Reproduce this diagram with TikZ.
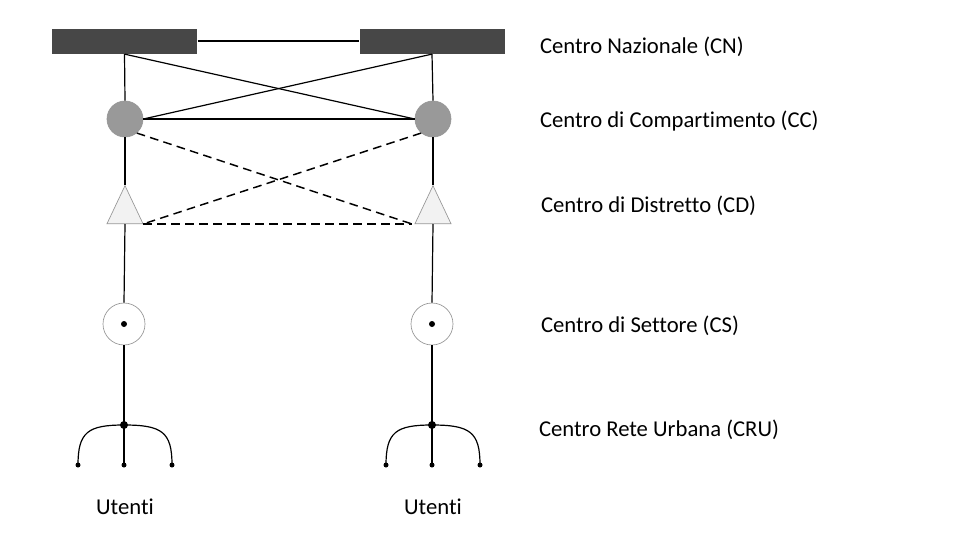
\documentclass[tikz,border=0pt]{standalone}
\usepackage{fontspec}
\setmainfont[Ligatures=NoCommon]{Carlito}
\usepackage{tikz}
\usetikzlibrary{shapes.geometric,calc}
\definecolor{cndark}{RGB}{71,71,71}
\definecolor{ccgrey}{RGB}{153,153,153}
\definecolor{edgegrey}{RGB}{150,150,150}
\definecolor{cdlight}{RGB}{242,242,242}

\begin{document}
\begin{tikzpicture}[x=0.75pt,y=-0.75pt,line width=0.9pt,
    cnbox/.style={rectangle,fill=cndark,inner sep=0,minimum width=108.75pt,minimum height=18.75pt},
    ccnode/.style={circle,fill=ccgrey,draw=edgegrey,line width=0.5pt,inner sep=0,minimum size=27pt},
    cdnode/.style={isosceles triangle,shape border rotate=90,isosceles triangle stretches,fill=cdlight,draw=edgegrey,line width=0.5pt,inner sep=0,minimum width=27pt,minimum height=28.5pt,anchor=south},
    csnode/.style={circle,fill=white,draw=edgegrey,line width=0.5pt,inner sep=0,minimum size=31.5pt},
    dot/.style={circle,fill=black,inner sep=0,minimum size=#1},
    cdlink/.style={line width=1.1pt,dash pattern=on 6.5pt off 4pt},
    lbl/.style={anchor=west,font=\fontsize{17}{20}\selectfont}]
    \useasboundingbox (0,0) rectangle (955,550);

    % Nazionale
    \node[cnbox] (cnA) at (124.5,41) {};
    \node[cnbox] (cnB) at (432,41) {};
    \draw (cnA.east) -- (cnB.west);

    % Compartimento
    \node[ccnode] (ccA) at (125,119) {};
    \node[ccnode] (ccB) at (433,119) {};
    \draw (cnA.south) -- (ccA.north);
    \draw (cnB.south) -- (ccB.north);
    \draw (cnA.south) -- (ccB.west);
    \draw (cnB.south) -- (ccA.east);
    \draw (ccA.east) -- (ccB.west);

    % Distretto
    \node[cdnode] (cdA) at (125,224) {};
    \node[cdnode] (cdB) at (433,224) {};
    \coordinate (cdAr) at ($(cdA.south)+(18,0)$);
    \coordinate (cdBl) at ($(cdB.south)+(-21,0)$);
    \draw (ccA.south) -- (cdA.north);
    \draw (ccB.south) -- (cdB.north);
    \draw[cdlink] (ccA.-50) -- (cdBl);
    \draw[cdlink] (ccB.-130) -- (cdAr);
    \draw[cdlink] (cdAr) -- (cdBl);

    % Settore
    \node[csnode] (csA) at (124,324) {};
    \node[csnode] (csB) at (432,324) {};
    \node[dot=4.5pt] (csAdot) at (csA) {};
    \node[dot=4.5pt] (csBdot) at (csB) {};
    \draw (cdA.south) -- (csA.north);
    \draw (cdB.south) -- (csB.north);

    % Rete urbana e utenti
    \foreach \s/\x in {A/124,B/432} {
        \node[dot=6pt] (cru\s) at (\x,425) {};
        \node[dot=3.75pt] (ut\s1) at (\x-46,465) {};
        \node[dot=3.75pt] (ut\s2) at (\x,465) {};
        \node[dot=3.75pt] (ut\s3) at (\x+48,465) {};
        \draw (cs\s.south) -- (cru\s.center);
        \draw (cru\s.center) -- (ut\s2.center);
        \draw (cru\s.center) .. controls (\x-36,425) and (\x-46,432) .. (ut\s1.center);
        \draw (cru\s.center) .. controls (\x+38,425) and (\x+48,432) .. (ut\s3.center);
        \node[font=\fontsize{17}{20}\selectfont] (utenti\s) at (\x+1,507) {Utenti};
    }

    % Etichette
    \node[lbl] (lcn) at (535,47) {Centro Nazionale (CN)};
    \node[lbl] (lcc) at (535,121) {Centro di Compartimento (CC)};
    \node[lbl] (lcd) at (536,206) {Centro di Distretto (CD)};
    \node[lbl] (lcs) at (536,326) {Centro di Settore (CS)};
    \node[lbl] (lcru) at (534,430) {Centro Rete Urbana (CRU)};
\end{tikzpicture}
\end{document}
